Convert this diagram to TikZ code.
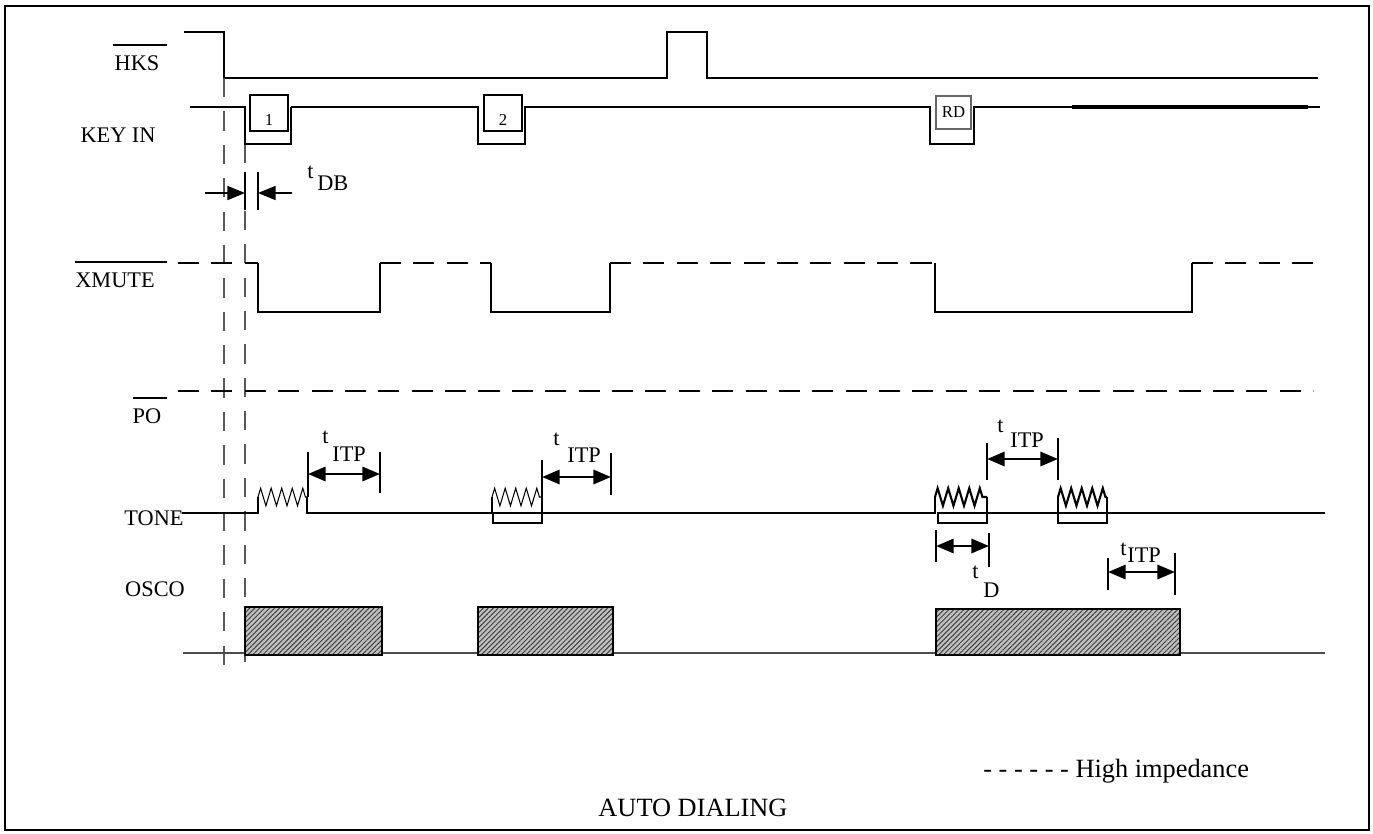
\documentclass[tikz,border=0pt]{standalone}
\usepackage{fontspec}
\setmainfont{Liberation Serif}
\usetikzlibrary{arrows.meta,patterns.meta,decorations.pathmorphing}
\newcommand\sigfont{\fontsize{12.7}{15}\selectfont}
\newcommand\keyfont{\fontsize{9.5}{11}\selectfont}
\newcommand\bigfont{\fontsize{15}{18}\selectfont}
\begin{document}
\begin{tikzpicture}
    [x=0.02cm, y=-0.02cm,
    thin line/.style = {line width=0.6pt},
    thick line/.style = {line width=1.3pt},
    hiz/.style = {line width=1.3pt, dash pattern=on 12pt off 7pt},
    guide/.style = {line width=0.6pt, black!65, dash pattern=on 11pt off 8pt},
    lbl/.style = {font=\sigfont, inner sep=0pt},
    sub/.style = {font=\sigfont, inner sep=0pt, anchor=base west},
    keybox/.style = {draw, font=\keyfont, inner sep=0pt,
                    minimum width=0.76cm, minimum height=0.72cm},
    tick/.style = {line width=1.3pt},
    dim/.style = {{Triangle[length=10pt,width=8pt]}-{Triangle[length=10pt,width=8pt]},
                    line width=1.6pt},
    zz/.style = {decorate, decoration={zigzag, segment length=6pt, amplitude=5pt}},
    osco/.style = {preaction={fill=black!25},
                    pattern={Lines[angle=45,distance=2pt,line width=0.55pt]},
                    pattern color=black!75}]
    \useasboundingbox (0,0) rectangle (1373,833);
    \draw[line width=1.3pt] (5,6) rectangle (1369,830);
    % Signal names
    \node[lbl] (lblHKS) at (137,63) {HKS};
    \draw[thin line] (113,45) -- (167,45);
    \node[lbl] (lblKEY) at (118,135) {KEY IN};
    \node[lbl] (lblXMUTE) at (115,280) {XMUTE};
    \draw[thin line] (75,262) -- (167,262);
    \node[lbl] (lblPO) at (147,416) {PO};
    \draw[thin line] (133,398) -- (167,398);
    \node[lbl] (lblTONE) at (154,518) {TONE};
    \node[lbl] (lblOSCO) at (155,589) {OSCO};
    % HKS
    \draw[thin line] (184,32) -- (224,32) -- (224,78) -- (667,78) -- (667,32)
        -- (707,32) -- (707,78) -- (1318,78);
    % Guide lines
    \draw[guide] (224,78) -- (224,668);
    \draw[guide] (245,144) -- (245,662);
    % KEY IN
    \draw[thin line] (190,107) -- (245,107) -- (245,144) -- (291,144) -- (291,107);
    \draw[thick line] (291,107) -- (478,107) -- (478,144) -- (525,144) -- (525,107)
        -- (930,107) -- (930,144) -- (974,144) -- (974,107) -- (1072,107);
    \draw[line width=1.8pt] (1072,107) -- (1308,107);
    \draw[thin line] (1308,107) -- (1320,107);
    \node[keybox, thick line, text height=14pt] (key1) at (269,113) {1};
    \node[keybox, thick line, text height=14pt] (key2) at (503,113) {2};
    \node[keybox, thin line, draw=black!60, minimum width=0.7cm,
        minimum height=0.66cm] (keyRD) at (953.5,112.5) {RD};
    % t DB
    \coordinate (dbL) at (245,193);
    \coordinate (dbR) at (258,193);
    \draw[tick, line width=0.8pt] (245,172) -- (245,210);
    \draw[tick, line width=0.8pt] (258,172) -- (258,210);
    \draw[line width=0.8pt, -{Triangle[length=10pt,width=8pt]}] (205,193) -- (dbL);
    \draw[line width=0.8pt, -{Triangle[length=10pt,width=8pt]}] (292,193) -- (dbR);
    \node[sub] (tDBt) at (307,178) {t};
    \node[sub] (tDB) at (317,190) {DB};
    % XMUTE
    \draw[hiz] (178,263) -- (258,263);
    \draw[thick line] (258,263) -- (258,312) -- (380,312) -- (380,263);
    \draw[hiz] (380,263) -- (491,263);
    \draw[thick line] (491,263) -- (491,312) -- (610,312) -- (610,263);
    \draw[hiz] (610,263) -- (935,263);
    \draw[thick line] (935,263) -- (935,312) -- (1192,312) -- (1192,263);
    \draw[hiz] (1192,263) -- (1313,263);
    % PO
    \draw[hiz] (178,391) -- (1313,391);
    % TONE
    \draw[thick line] (182,513) -- (258,513) -- (258,497);
    \draw[thin line, zz] (258,497) -- (307,497);
    \draw[thick line] (307,497) -- (307,513) -- (492,513);
    \draw[thin line] (492,513) -- (492,497);
    \draw[thin line, zz] (492,497) -- (542,497);
    \draw[thin line] (542,497) -- (542,513);
    \draw[thin line] (493,513) rectangle (542,523);
    \draw[thick line] (542,513) -- (935,513) -- (935,497);
    \draw[line width=1.2pt, zz] (935,497) -- (987,497);
    \draw[thick line] (987,497) -- (987,513) -- (1058,513) -- (1058,497);
    \draw[line width=1.2pt, zz] (1058,497) -- (1107,497);
    \draw[thick line] (1107,497) -- (1107,513) -- (1325,513);
    \draw[thin line] (938,513) rectangle (987,523);
    \draw[thin line] (1058,513) rectangle (1107,523);
    % t ITP and t D
    \coordinate (itpA1) at (308,474);
    \coordinate (itpA2) at (380,474);
    \draw[tick] (308,452) -- (308,497);
    \draw[tick] (380,452) -- (380,493);
    \draw[dim] (itpA1) -- (itpA2);
    \node[sub] (itpAt) at (322,443) {t};
    \node[sub] (itpA) at (332,461) {ITP};
    \coordinate (itpB1) at (542,477);
    \coordinate (itpB2) at (611,477);
    \draw[tick] (542,460) -- (542,513);
    \draw[tick] (611,453) -- (611,495);
    \draw[dim] (itpB1) -- (itpB2);
    \node[sub] (itpBt) at (553,445) {t};
    \node[sub] (itpB) at (567,462) {ITP};
    \coordinate (itpC1) at (987,459);
    \coordinate (itpC2) at (1058,459);
    \draw[tick] (987,443) -- (987,480);
    \draw[tick] (1058,438) -- (1058,480);
    \draw[dim] (itpC1) -- (itpC2);
    \node[sub] (itpCt) at (997,432) {t};
    \node[sub] (itpC) at (1010,447) {ITP};
    \coordinate (dA) at (936,546);
    \coordinate (dB) at (989,546);
    \draw[tick] (936,530) -- (936,562);
    \draw[tick] (989,533) -- (989,567);
    \draw[dim] (dA) -- (dB);
    \node[sub] (tDt) at (972,578) {t};
    \node[sub] (tD) at (983,597) {D};
    \coordinate (itpD1) at (1108,572);
    \coordinate (itpD2) at (1175,572);
    \draw[tick] (1108,558) -- (1108,590);
    \draw[tick] (1175,553) -- (1175,595);
    \draw[dim] (itpD1) -- (itpD2);
    \node[sub] (itpDt) at (1120,555) {t};
    \node[sub] (itpD) at (1127,562) {ITP};
    % OSCO
    \draw[thin line, black!70] (183,653) -- (1325,653);
    \draw[osco, thin line] (245,607) rectangle (382,655);
    \draw[osco, line width=1.6pt] (478,607) rectangle (613,655);
    \draw[osco, line width=1.6pt] (936,609) rectangle (1180,655);
    % Legend and title
    \node[sub, font=\bigfont] (legend) at (983,777) {- - - - - - High impedance};
    \node[lbl, font=\bigfont] (title) at (693,808) {AUTO DIALING};
\end{tikzpicture}
\end{document}
